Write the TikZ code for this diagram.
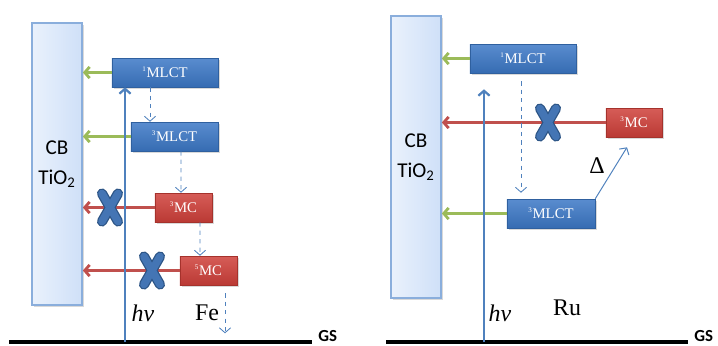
\documentclass[tikz,border=0pt]{standalone}
\usepackage{fontspec}
\setmainfont{Liberation Serif}
\newfontfamily\cbfont{Carlito}
\usetikzlibrary{arrows.meta,calc,shadows}

\definecolor{mlctblue}{HTML}{3C78C6}
\definecolor{mlctdark}{HTML}{2F609F}
\definecolor{mcred}{HTML}{CF403A}
\definecolor{mcdark}{HTML}{A5322C}
\definecolor{injgreen}{HTML}{9BBB59}
\definecolor{injred}{HTML}{C0504D}
\definecolor{photoblue}{HTML}{4F81BD}
\definecolor{xblue}{HTML}{4475B4}
\definecolor{xdark}{HTML}{2D5586}
\definecolor{cbfill}{HTML}{CFE0F8}
\definecolor{cbedge}{HTML}{8AAEDC}

\newcommand\levelsup[1]{\textsuperscript{\tiny #1}}

\tikzset{
  >={Straight Barb[length=3.5pt,width=8pt]},
  band/.style={draw=cbedge, line width=1.2pt, left color=white!55!cbfill, right color=cbfill,
    minimum width=1.25cm, minimum height=7.05cm, inner sep=0pt, align=center,
    font=\cbfont\fontsize{15}{21}\selectfont,
    drop shadow={opacity=0.3, shadow xshift=1.2pt, shadow yshift=-1.2pt}},
  mlct/.style={draw=mlctdark, top color=mlctblue!85!white, bottom color=mlctblue!90!black,
    minimum height=0.725cm, inner sep=0pt, text=white, font=\fontsize{10.5}{12}\selectfont,
    drop shadow={opacity=0.3, shadow xshift=1.2pt, shadow yshift=-1.2pt}},
  mc/.style={draw=mcdark, top color=mcred!85!white, bottom color=mcred!90!black,
    minimum width=1.425cm, minimum height=0.725cm, inner sep=0pt, text=white,
    font=\fontsize{10.5}{12}\selectfont,
    drop shadow={opacity=0.3, shadow xshift=1.2pt, shadow yshift=-1.2pt}},
  inject/.style={->, injgreen, line width=2pt},
  blocked/.style={->, injred, line width=2pt},
  photon/.style={->, photoblue, line width=1.6pt},
  relax/.style={->, photoblue, line width=0.6pt, dashed},
  thermal/.style={->, photoblue, line width=0.7pt},
  ground/.style={black, line width=2.8pt},
  gs/.style={anchor=west, inner sep=0pt, font=\cbfont\bfseries\fontsize{12}{14}\selectfont},
  label/.style={inner sep=1pt, font=\fontsize{17}{18}\selectfont},
  nogo/.pic={
    \draw[xdark, line width=7.2pt, line cap=round] (-8,-14) -- (8,14) (-8,14) -- (8,-14);
    \draw[xblue, line width=5.4pt, line cap=round] (-8,-14) -- (8,14) (-8,14) -- (8,-14);
  }
}

\begin{document}
\begin{tikzpicture}[x=0.025cm,y=-0.025cm]
  \useasboundingbox (0,0) rectangle (718,345);

  % Fe
  \node[band] (cbL) at (57,164) {CB\\TiO\textsubscript{2}};
  \node[mlct, minimum width=2.65cm] (mlctA) at (165,72.5) {\levelsup{1}MLCT};
  \node[mlct, minimum width=2.175cm] (mlctB) at (174.5,136.5) {\levelsup{3}MLCT};
  \node[mc] (mcA) at (183.5,207.5) {\levelsup{3}MC};
  \node[mc] (mcB) at (208.5,270.5) {\levelsup{5}MC};
  \coordinate (gsLa) at (9,342);
  \node[gs] (gsL) at (318,336) {GS};
  \draw[ground] (gsLa) -- ([xshift=-4pt]gsL.west |- gsLa);

  \draw[inject] (mlctA.west) -- (mlctA.west -| cbL.east);
  \draw[inject] (mlctB.west) -- (mlctB.west -| cbL.east);
  \draw[blocked] (mcA.west) -- (mcA.west -| cbL.east);
  \draw[blocked] (mcB.west) -- (mcB.west -| cbL.east);

  \coordinate (hvL) at (125,342);
  \draw[photon] (hvL) -- (hvL |- mlctA.south);
  \pic at (110,207.5) {nogo};
  \pic at (152,270.5) {nogo};

  \draw[relax] ($(mlctA.south)+(-15,0)$) -- ($(mlctB.north)+(-24.5,0)$);
  \draw[relax] ($(mlctB.south)+(6.5,0)$) -- ($(mcA.north)+(-2.5,0)$);
  \draw[relax] ($(mcA.south)+(16.5,0)$) -- ($(mcB.north)+(-8.5,0)$);
  \draw[relax] ($(mcB.south)+(16.5,8)$) -- ($(mcB.south)+(16.5,48)$);

  \node[label] (hvLtxt) at (143,313) {\textit{hν}};
  \node[label] (metL) at (207,313) {Fe};

  % Ru
  \node[band] (cbR) at (416,157) {CB\\TiO\textsubscript{2}};
  \node[mlct, minimum width=2.65cm] (mlctC) at (523,58.5) {\levelsup{1}MLCT};
  \node[mc, minimum width=1.4cm] (mcC) at (634,122.5) {\levelsup{3}MC};
  \node[mlct, minimum width=2.2cm] (mlctD) at (551,213.5) {\levelsup{3}MLCT};
  \coordinate (gsRa) at (386,342);
  \node[gs] (gsR) at (694,336) {GS};
  \draw[ground] (gsRa) -- ([xshift=-4pt]gsR.west |- gsRa);

  \draw[inject] (mlctC.west) -- (mlctC.west -| cbR.east);
  \draw[inject] (mlctD.west) -- (mlctD.west -| cbR.east);
  \draw[blocked] (mcC.west) -- (mcC.west -| cbR.east);

  \coordinate (hvR) at (484,342);
  \draw[photon] (hvR) -- ($(hvR |- mlctC.south)+(0,16)$);
  \pic at (548,122.5) {nogo};

  \draw[relax] ($(mlctC.south)+(-2,8)$) -- ($(mlctD.north)+(-30,-6)$);
  \draw[thermal] (mlctD.north east) -- ($(mcC.south)+(-7,10)$);

  \node[label] (heat) at (597,166) {Δ};
  \node[label] (hvRtxt) at (500,313) {\textit{hν}};
  \node[label] (metR) at (567,308) {Ru};
\end{tikzpicture}
\end{document}
